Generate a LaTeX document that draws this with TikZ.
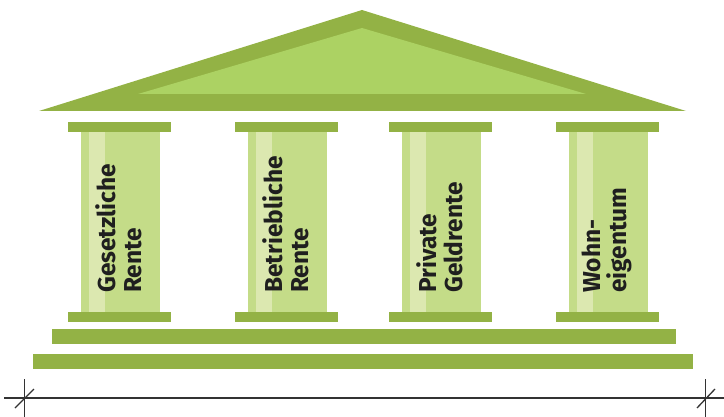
\documentclass[tikz,border=0pt]{standalone}
\usepackage{fontspec}
\setmainfont{Fira Sans}
\definecolor{darkgreen}{HTML}{93B245}
\definecolor{roofgreen}{HTML}{ACD263}
\definecolor{shaftgreen}{HTML}{C4DC88}
\definecolor{stripegreen}{HTML}{DCE8B0}
\definecolor{linegray}{HTML}{333333}
\tikzset{
  pillartext/.style={rotate=90, anchor=west, inner sep=0pt, align=left,
    text=black!88, font=\fontsize{24.5}{26}\selectfont\bfseries},
  ground/.style={linegray, line width=1.3pt}
}
\begin{document}
\begin{tikzpicture}[x=1pt,y=-1pt]
    \useasboundingbox (0,0) rectangle (724,417);
    \fill[darkgreen] (39,111)--(362,10)--(686,111)--cycle;
    \fill[roofgreen] (138,94)--(362,28)--(586,94)--cycle;
    \foreach \c in {68,235,389,556} {
        \fill[shaftgreen] (\c+13,132) rectangle (\c+92,312);
        \fill[stripegreen] (\c+21,132) rectangle (\c+37,312);
        \fill[darkgreen] (\c,122) rectangle (\c+103,132);
        \fill[darkgreen] (\c,312) rectangle (\c+103,322);
    }
    \fill[darkgreen] (52,329) rectangle (676,344);
    \fill[darkgreen] (33,354) rectangle (693,369);
    \node[pillartext] (gesetzlich) at (119,293) {Gesetzliche\\Rente};
    \node[pillartext] (betrieblich) at (286,293) {Betriebliche\\Rente};
    \node[pillartext] (privat) at (440,293) {Private\\Geldrente};
    \node[pillartext] (wohnen) at (607,293) {Wohn-\\eigentum};
    \coordinate (lend) at (4,398);
    \coordinate (rend) at (724,398);
    \coordinate (ltop) at (24,379);
    \coordinate (lbot) at (24,417);
    \coordinate (rtop) at (705,379);
    \coordinate (rbot) at (705,417);
    \draw[ground] (lend)--(rend);
    \draw[ground, line width=0.8pt] (ltop)--(lbot);
    \draw[ground, line width=0.8pt] (rtop)--(rbot);
    \draw[ground] (15,408)--(34,389);
    \draw[ground] (697,408)--(715,389);
\end{tikzpicture}
\end{document}
